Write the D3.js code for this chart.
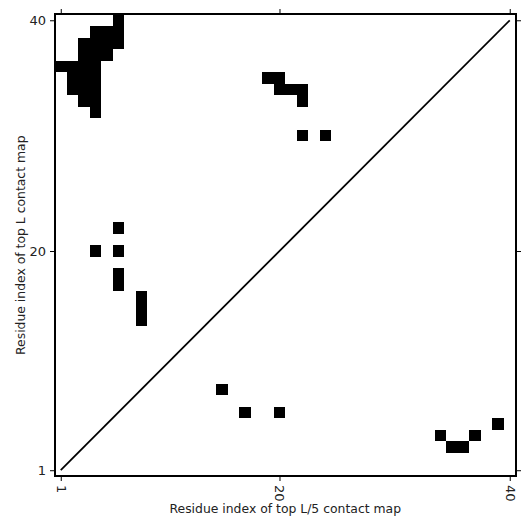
<!DOCTYPE html>
<html>
<head>
<meta charset="utf-8">
<script src="https://cdn.jsdelivr.net/npm/d3@7"></script>
<style>
  body { margin: 0; background: #fff; }
  text { font-family: "DejaVu Sans", sans-serif; }
</style>
</head>
<body>
<script>
const width = 531;
const height = 531;
const margins = { top: 14, right: 15, bottom: 55, left: 55 };

// contacts of the top L map (upper-left triangle), as [x, y] residue pairs
const topLContacts = [
  [6, 40],
  [4, 39], [5, 39], [6, 39],
  [3, 38], [4, 38], [5, 38], [6, 38],
  [3, 37], [4, 37], [5, 37],
  [1, 36], [2, 36], [3, 36], [4, 36],
  [2, 35], [3, 35], [4, 35],
  [2, 34], [3, 34], [4, 34],
  [3, 33], [4, 33],
  [4, 32],
  [19, 35], [20, 35],
  [20, 34], [21, 34], [22, 34],
  [22, 33],
  [22, 30], [24, 30],
  [6, 22],
  [4, 20], [6, 20],
  [6, 18], [6, 17],
  [8, 16], [8, 15], [8, 14],
];

// contacts of the top L/5 map (lower-right triangle)
const topL5Contacts = [
  [15, 8],
  [17, 6], [20, 6],
  [39, 5],
  [34, 4], [37, 4],
  [35, 3], [36, 3],
];

const tickValues = [1, 20, 40];
const xLabel = "Residue index of top L/5 contact map";
const yLabel = "Residue index of top L contact map";

const svg = d3
  .select("body")
  .append("svg")
  .attr("width", width)
  .attr("height", height);

const x = d3
  .scaleLinear()
  .domain([0.5, 40.5])
  .range([margins.left, width - margins.right - 0.5]);

const y = d3
  .scaleLinear()
  .domain([0.5, 40.5])
  .range([height - margins.bottom, margins.top + 0.5]);

const cellW = x(1.5) - x(0.5);
const cellH = y(0.5) - y(1.5);

svg
  .append("g")
  .selectAll("rect")
  .data(topLContacts.concat(topL5Contacts))
  .join("rect")
  .attr("x", (d) => x(d[0] - 0.5))
  .attr("y", (d) => y(d[1] + 0.5))
  .attr("width", cellW)
  .attr("height", cellH)
  .attr("fill", "black")
  .attr("shape-rendering", "crispEdges");

// diagonal
svg
  .append("line")
  .attr("x1", x(1))
  .attr("y1", y(1))
  .attr("x2", x(40))
  .attr("y2", y(40))
  .attr("stroke", "black")
  .attr("stroke-width", 1.8);

// axes
const fmt = d3.format("d");

const xBottom = svg
  .append("g")
  .attr("transform", `translate(0,${height - margins.bottom})`)
  .call(d3.axisBottom(x).tickValues(tickValues).tickFormat(fmt).tickSize(5).tickPadding(4));

xBottom
  .selectAll(".tick text")
  .attr("transform", "rotate(90)")
  .attr("text-anchor", "start")
  .attr("dominant-baseline", "central")
  .attr("x", 9)
  .attr("y", 0)
  .attr("dy", null);

svg
  .append("g")
  .attr("transform", `translate(0,${margins.top})`)
  .call(d3.axisTop(x).tickValues(tickValues).tickFormat("").tickSize(5));

svg
  .append("g")
  .attr("transform", `translate(${margins.left},0)`)
  .call(d3.axisLeft(y).tickValues(tickValues).tickFormat(fmt).tickSize(5).tickPadding(4));

svg
  .append("g")
  .attr("transform", `translate(${width - margins.right},0)`)
  .call(d3.axisRight(y).tickValues(tickValues).tickFormat("").tickSize(5));

svg.selectAll(".domain").remove();
svg
  .selectAll(".tick text")
  .attr("font-size", 13)
  .attr("font-family", "DejaVu Sans, sans-serif")
  .attr("fill", "#222");
svg.selectAll(".tick line").attr("stroke", "black").attr("stroke-width", 1);

// frame
svg
  .append("rect")
  .attr("x", margins.left)
  .attr("y", margins.top)
  .attr("width", width - margins.left - margins.right)
  .attr("height", height - margins.top - margins.bottom)
  .attr("fill", "none")
  .attr("stroke", "black")
  .attr("stroke-width", 2);

svg
  .append("text")
  .attr("x", (x(0.5) + x(40.5)) / 2)
  .attr("y", 513)
  .attr("text-anchor", "middle")
  .attr("font-size", 12.4)
  .attr("fill", "#222")
  .text(xLabel);

svg
  .append("text")
  .attr("transform", `translate(25,${(y(0.5) + y(40.5)) / 2}) rotate(-90)`)
  .attr("text-anchor", "middle")
  .attr("font-size", 12.4)
  .attr("fill", "#222")
  .text(yLabel);
</script>
</body>
</html>
